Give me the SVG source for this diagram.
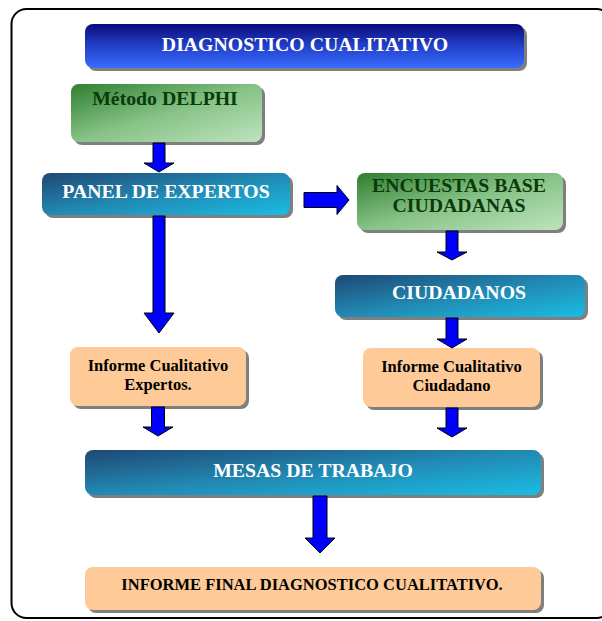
<svg xmlns="http://www.w3.org/2000/svg" width="602" height="621" viewBox="0 0 602 621">
<defs>
<linearGradient id="gTitle" x1="0" y1="0" x2="0" y2="1">
<stop offset="0" stop-color="#0a0a7a"/>
<stop offset="0.5" stop-color="#2240c8"/>
<stop offset="1" stop-color="#3a6cff"/>
</linearGradient>
<linearGradient id="gGreen" x1="0" y1="0" x2="1" y2="1">
<stop offset="0" stop-color="#2f7f30"/>
<stop offset="0.5" stop-color="#86c286"/>
<stop offset="1" stop-color="#bfe3bf"/>
</linearGradient>
<linearGradient id="gTeal" x1="0" y1="0" x2="1" y2="1">
<stop offset="0" stop-color="#1f4874"/>
<stop offset="0.5" stop-color="#2189b3"/>
<stop offset="1" stop-color="#1abde4"/>
</linearGradient>
<style>
.sh{fill:#7f7f7f}
.title{fill:url(#gTitle)}
.green{fill:url(#gGreen)}
.teal{fill:url(#gTeal)}
.peach{fill:#fecb98}
text{font-family:"Liberation Serif","Times New Roman",serif;font-weight:bold;text-anchor:middle}
.tw{fill:#ffffff;font-size:19.8px}
.tg{fill:#0b3a0b;font-size:19.8px}
.tb{fill:#000000;font-size:16.5px}
.arrow{fill:#0000ff;stroke:#000000;stroke-width:1}
</style>
</defs>
<rect x="11.5" y="9" width="600" height="609" rx="15" fill="#ffffff" stroke="#000000" stroke-width="2"/>
<g id="n-title">
<rect class="sh" x="88" y="27" width="439" height="44" rx="8"/>
<rect class="title" x="85" y="24" width="439" height="44" rx="8"/>
<text class="tw" x="305" y="51">DIAGNOSTICO CUALITATIVO</text>
</g>
<g id="n-delphi">
<rect class="sh" x="74" y="87" width="191" height="58" rx="8"/>
<rect class="green" x="71" y="84" width="191" height="58" rx="8"/>
<text class="tg" x="165" y="105">Método DELPHI</text>
</g>
<g id="n-panel">
<rect class="sh" x="45" y="176" width="248" height="42" rx="8"/>
<rect class="teal" x="42" y="173" width="248" height="42" rx="8"/>
<text class="tw" x="166" y="198">PANEL DE EXPERTOS</text>
</g>
<g id="n-encuestas">
<rect class="sh" x="360" y="176" width="206" height="57" rx="8"/>
<rect class="green" x="357" y="173" width="206" height="57" rx="8"/>
<text class="tg" x="459" y="192">ENCUESTAS BASE</text>
<text class="tg" x="459" y="212">CIUDADANAS</text>
</g>
<g id="n-ciudadanos">
<rect class="sh" x="338" y="278" width="250" height="42" rx="8"/>
<rect class="teal" x="335" y="275" width="250" height="42" rx="8"/>
<text class="tw" x="459" y="299">CIUDADANOS</text>
</g>
<g id="n-inf-expertos">
<rect class="sh" x="73" y="350" width="176" height="59" rx="8"/>
<rect class="peach" x="70" y="347" width="176" height="59" rx="8"/>
<text class="tb" x="158" y="371">Informe Cualitativo</text>
<text class="tb" x="158" y="390">Expertos.</text>
</g>
<g id="n-inf-ciudadano">
<rect class="sh" x="366" y="351" width="177" height="59" rx="8"/>
<rect class="peach" x="363" y="348" width="177" height="59" rx="8"/>
<text class="tb" x="451.5" y="372">Informe Cualitativo</text>
<text class="tb" x="451.5" y="391">Ciudadano</text>
</g>
<g id="n-mesas">
<rect class="sh" x="88" y="453" width="456" height="45" rx="8"/>
<rect class="teal" x="85" y="450" width="456" height="45" rx="8"/>
<text class="tw" x="313" y="477">MESAS DE TRABAJO</text>
</g>
<g id="n-final">
<rect class="sh" x="88" y="570" width="456" height="43" rx="8"/>
<rect class="peach" x="85" y="567" width="456" height="43" rx="8"/>
<text class="tb" x="312" y="590">INFORME FINAL DIAGNOSTICO CUALITATIVO.</text>
</g>
<g id="connectors">
<path class="arrow" d="M153,143 H165 V163 H174 L159,172 L144,163 H153 Z"/>
<path class="arrow" d="M153,216 H165 V313 H174 L159,333 L144,313 H153 Z"/>
<path class="arrow" d="M304,192.5 H337 V185.5 L349,200 L337,214.5 V207.5 H304 Z"/>
<path class="arrow" d="M446,231 H458 V252 H467 L452,260 L437,252 H446 Z"/>
<path class="arrow" d="M446,318 H458 V339 H467 L452,348 L437,339 H446 Z"/>
<path class="arrow" d="M151.5,407 H164.5 V427 H173 L158,436 L143,427 H151.5 Z"/>
<path class="arrow" d="M446,408 H458 V428 H467 L452,437 L437,428 H446 Z"/>
<path class="arrow" d="M313,496 H327 V538 H335 L320,553 L305,538 H313 Z"/>
</g>
</svg>
